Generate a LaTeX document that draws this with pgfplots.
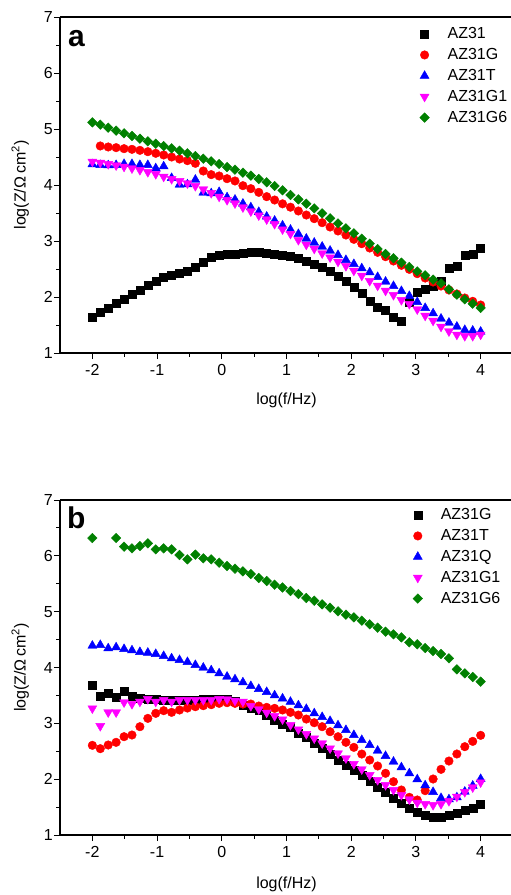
\documentclass[border=0pt]{standalone}
\usepackage{fontspec}
\setmainfont{Liberation Sans}
\usepackage{pgfplots}
\pgfplotsset{compat=1.18}
\usepackage{pgfplotstable}

\definecolor{ored}{RGB}{255,0,0}
\definecolor{oblue}{RGB}{0,0,255}
\definecolor{omag}{RGB}{255,0,255}
\definecolor{ogreen}{RGB}{0,128,0}

% panel a: x = log(f/Hz), then log|Z| of each sample
\pgfplotstableread{
x AZ31 AZ31G AZ31T AZ31G1 AZ31G6
-2.0000 1.643 nan 4.369 4.417 5.119
-1.8776 1.720 4.697 4.357 4.399 5.078
-1.7551 1.804 4.679 4.351 4.375 5.024
-1.6327 1.887 4.667 4.357 4.351 4.970
-1.5102 1.958 4.649 4.375 4.327 4.923
-1.3878 2.054 4.637 4.375 4.298 4.875
-1.2653 2.125 4.619 4.357 4.268 4.827
-1.1429 2.208 4.595 4.357 4.232 4.780
-1.0204 2.286 4.566 4.298 4.196 4.738
-0.8980 2.351 4.536 4.333 4.149 4.696
-0.7755 2.381 4.500 4.125 4.107 4.655
-0.6531 2.417 4.464 4.006 4.071 4.613
-0.5306 2.458 4.435 4.012 4.030 4.566
-0.4082 2.524 4.387 4.095 3.982 4.518
-0.2857 2.625 4.250 3.863 3.923 4.470
-0.1633 2.708 4.185 3.851 3.857 4.423
-0.0408 2.744 4.161 3.875 3.792 4.375
0.0816 2.756 4.113 3.780 3.732 4.321
0.2041 2.762 4.072 3.738 3.673 4.274
0.3265 2.780 3.988 3.667 3.601 4.220
0.4490 2.798 3.935 3.601 3.530 4.167
0.5714 2.798 3.869 3.518 3.458 4.107
0.6939 2.786 3.792 3.435 3.387 4.048
0.8163 2.768 3.732 3.363 3.304 3.982
0.9388 2.750 3.664 3.277 3.208 3.905
1.0612 2.732 3.604 3.202 3.128 3.821
1.1837 2.685 3.536 3.125 3.018 3.744
1.3061 2.637 3.464 3.042 2.935 3.667
1.4286 2.589 3.399 2.970 2.863 3.583
1.5510 2.524 3.327 2.899 2.780 3.494
1.6735 2.452 3.250 2.827 2.708 3.405
1.7959 2.375 3.179 2.750 2.631 3.315
1.9184 2.280 3.107 2.661 2.554 3.226
2.0408 2.173 3.030 2.589 2.470 3.137
2.1633 2.066 2.952 2.512 2.381 3.042
2.2857 1.923 2.875 2.440 2.286 2.952
2.4082 1.816 2.798 2.357 2.202 2.857
2.5306 1.768 2.720 2.274 2.113 2.768
2.6531 1.643 2.643 2.196 2.036 2.691
2.7755 1.566 2.566 2.107 1.946 2.613
2.8980 1.905 2.494 2.018 1.875 2.536
3.0204 2.084 2.417 1.911 1.780 2.458
3.1429 2.148 2.339 1.804 1.667 2.387
3.2653 2.200 2.268 1.708 1.577 2.310
3.3878 2.280 2.196 1.613 1.470 2.244
3.5102 2.518 2.125 1.542 1.387 2.137
3.6327 2.559 2.054 1.470 1.328 2.042
3.7551 2.738 1.982 1.411 1.304 1.958
3.8776 2.773 1.923 1.399 1.304 1.881
4.0000 2.875 1.857 1.381 1.328 1.804
}\tablea

% panel b
\pgfplotstableread{
x AZ31G AZ31T AZ31Q AZ31G1 AZ31G6
-2.0000 3.681 2.606 4.391 3.268 6.319
-1.8776 3.484 2.546 4.403 2.952 nan
-1.7551 3.537 2.612 4.343 3.197 nan
-1.6327 3.466 2.660 4.361 3.197 6.319
-1.5102 3.567 2.761 4.331 3.376 6.164
-1.3878 3.484 2.791 4.307 3.346 6.134
-1.2653 3.448 2.940 4.277 3.388 6.176
-1.1429 3.430 3.089 4.265 3.436 6.224
-1.0204 3.430 3.179 4.242 3.388 6.116
-0.8980 3.420 3.227 4.206 3.418 6.134
-0.7755 3.420 3.197 4.164 3.388 6.116
-0.6531 3.420 3.239 4.134 3.418 6.015
-0.5306 3.420 3.274 4.098 3.418 5.937
-0.4082 3.420 3.298 4.045 3.418 6.021
-0.2857 3.425 3.316 3.997 3.418 5.955
-0.1633 3.430 3.334 3.949 3.418 5.937
-0.0408 3.440 3.358 3.895 3.436 5.877
0.0816 3.430 3.370 3.836 3.430 5.818
0.2041 3.390 3.358 3.788 3.406 5.770
0.3265 3.330 3.346 3.734 3.388 5.722
0.4490 3.269 3.346 3.668 3.310 5.674
0.5714 3.227 3.310 3.615 3.251 5.603
0.6939 3.149 3.286 3.561 3.191 5.549
0.8163 3.060 3.268 3.501 3.131 5.483
0.9388 2.991 3.239 3.445 3.071 5.433
1.0612 2.925 3.197 3.385 2.970 5.370
1.1837 2.821 3.149 3.322 2.892 5.316
1.3061 2.746 3.077 3.257 2.809 5.245
1.4286 2.636 3.011 3.179 2.731 5.197
1.5510 2.549 2.940 3.113 2.642 5.131
1.6735 2.442 2.850 3.042 2.552 5.071
1.7959 2.337 2.760 2.964 2.463 5.006
1.9184 2.251 2.660 2.880 2.373 4.946
2.0408 2.164 2.570 2.791 2.272 4.898
2.1633 2.066 2.450 2.701 2.176 4.839
2.2857 1.961 2.343 2.612 2.075 4.773
2.4082 1.854 2.236 2.510 1.985 4.713
2.5306 1.758 2.105 2.415 1.895 4.642
2.6531 1.657 1.955 2.313 1.806 4.594
2.7755 1.567 1.806 2.212 1.716 4.540
2.8980 1.477 1.675 2.104 1.639 4.451
3.0204 1.406 1.627 1.997 1.579 4.415
3.1429 1.349 1.794 1.889 1.555 4.349
3.2653 1.316 2.003 1.770 1.537 4.295
3.3878 1.316 2.176 1.662 1.555 4.242
3.5102 1.346 2.325 1.639 1.609 4.164
3.6327 1.388 2.451 1.675 1.686 3.967
3.7551 1.441 2.582 1.776 1.770 3.895
3.8776 1.477 2.677 1.883 1.854 3.830
4.0000 1.549 2.785 2.003 1.943 3.746
}\tableb

\pgfplotsset{
  eis/.style={
    scale only axis, width=453pt,
    xmin=-2.5, xmax=4.5, ymin=1, ymax=7,
    axis x line*=box, axis y line*=left,
    tick pos=left, tick align=outside,
    xtick={-2,...,4}, xticklabels={-2,-1,0,1,2,3,4},
    ytick={1,...,7}, yticklabels={1,2,3,4,5,6,7},
    minor x tick num=1, minor y tick num=1,
    major tick length=6pt, minor tick length=3.5pt,
    every tick/.style={black, line width=1pt},
    axis line style={line width=1.2pt},
    tick label style={font=\fontsize{16}{19}\selectfont, inner sep=0pt},
    xticklabel style={anchor=north, yshift=-5pt},
    yticklabel style={anchor=east, xshift=-1pt},
    label style={font=\fontsize{16}{19}\selectfont, inner sep=0pt},
    xlabel={log(f/Hz)},
    ylabel={log(Z/Ω\,cm\textsuperscript{2})},
    ylabel style={at={(axis description cs:-0.068,0.5)}, anchor=south},
    legend cell align=left,
    legend image code/.code={%
      \draw[#1] plot[only marks] coordinates {(8.5pt,0pt)};
      \path[draw=none] (0pt,0pt) -- (30pt,0pt);},
    legend style={draw=none, fill=none, anchor=north west,
      font=\fontsize{16}{19}\selectfont, row sep=5.2pt,
      nodes={inner sep=1.5pt}},
  },
  sA/.style={only marks, mark=square*, mark size=4pt, black},
  sB/.style={only marks, mark=*, mark size=4.3pt, ored},
  sC/.style={only marks, mark=triangle*, mark size=5.2pt, oblue},
  sD/.style={only marks, mark=triangle*, mark size=5.2pt, omag,
    mark options={rotate=180}},
  sE/.style={only marks, mark=square*, mark size=3.4pt, ogreen,
    mark options={rotate=45}},
}

\begin{document}
\begin{tikzpicture}
\path[use as bounding box] (0,0) rectangle (511pt,-895pt);

\begin{axis}[eis, height=336pt, at={(60pt,-17pt)}, anchor=north west,
  xlabel style={at={(axis description cs:0.5,-0.154)}, anchor=base},
  legend style={at={(rel axis cs:0.779,0.979)}}]
\addplot[sA] table[x=x, y=AZ31] {\tablea};
\addplot[sB] table[x=x, y=AZ31G] {\tablea};
\addplot[sC] table[x=x, y=AZ31T] {\tablea};
\addplot[sD] table[x=x, y=AZ31G1] {\tablea};
\addplot[sE] table[x=x, y=AZ31G6] {\tablea};
\legend{AZ31, AZ31G, AZ31T, AZ31G1, AZ31G6}
\node[anchor=base west, inner sep=0pt, font=\bfseries\fontsize{30}{36}\selectfont]
  at (rel axis cs:0.0177,0.911) {a};
\end{axis}

\begin{axis}[eis, height=335pt, at={(60pt,-500pt)}, anchor=north west,
  xlabel style={at={(axis description cs:0.5,-0.160)}, anchor=base},
  legend style={at={(rel axis cs:0.764,0.985)}}]
\addplot[sA] table[x=x, y=AZ31G] {\tableb};
\addplot[sB] table[x=x, y=AZ31T] {\tableb};
\addplot[sC] table[x=x, y=AZ31Q] {\tableb};
\addplot[sD] table[x=x, y=AZ31G1] {\tableb};
\addplot[sE] table[x=x, y=AZ31G6] {\tableb};
\legend{AZ31G, AZ31T, AZ31Q, AZ31G1, AZ31G6}
\node[anchor=base west, inner sep=0pt, font=\bfseries\fontsize{30}{36}\selectfont]
  at (rel axis cs:0.0155,0.916) {b};
\end{axis}
\end{tikzpicture}
\end{document}
